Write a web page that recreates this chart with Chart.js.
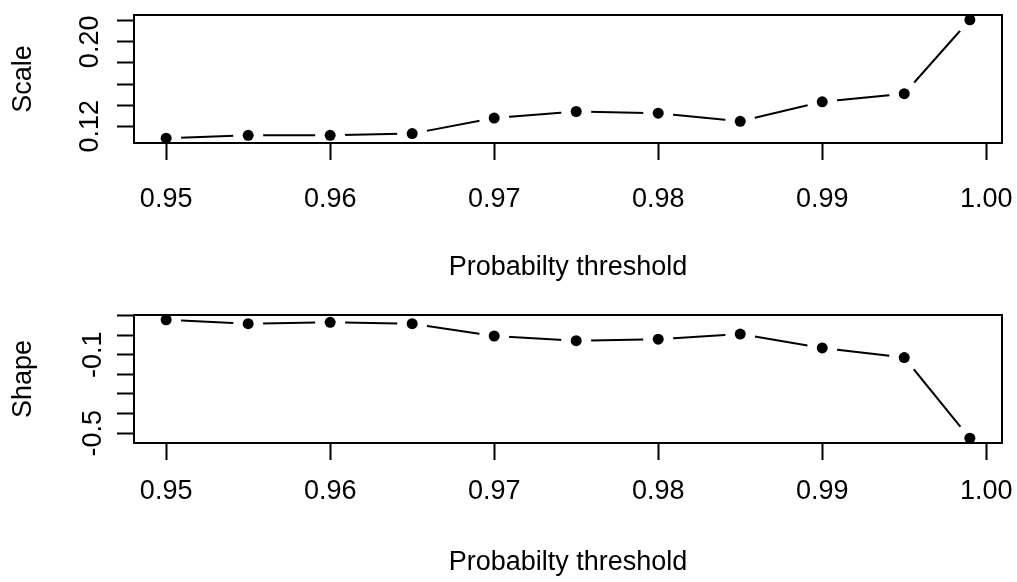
<!DOCTYPE html>
<html>
<head>
<meta charset="utf-8">
<script src="https://cdn.jsdelivr.net/npm/chart.js@4.4.1/dist/chart.umd.min.js"></script>
<style>
  html, body { margin: 0; padding: 0; background: #fff; }
  #wrap { position: relative; width: 1017px; height: 582px; overflow: hidden; }
  canvas { position: absolute; left: 0; }
</style>
</head>
<body>
<div id="wrap">
  <canvas id="scaleChart" width="1017" height="291" style="top:0"></canvas>
  <canvas id="shapeChart" width="1017" height="282" style="top:300px"></canvas>
</div>
<script>
// Data
const thresholds = [0.95, 0.955, 0.96, 0.965, 0.97, 0.975, 0.98, 0.985, 0.99, 0.995, 0.999];
const scaleValues = [0.1085, 0.1113, 0.1113, 0.1129, 0.1277, 0.1339, 0.1323, 0.1246, 0.1431, 0.1508, 0.2210];
const shapeValues = [0.079, 0.059, 0.066, 0.059, -0.004, -0.028, -0.020, 0.006, -0.065, -0.114, -0.526];

const xTicks = [0.95, 0.96, 0.97, 0.98, 0.99, 1.00];
const xTickLabels = ['0.95', '0.96', '0.97', '0.98', '0.99', '1.00'];
const scaleTicks = [0.12, 0.14, 0.16, 0.18, 0.20, 0.22];
const scaleTickLabels = ['0.12', '', '', '', '0.20', ''];
const shapeTicks = [-0.5, -0.4, -0.3, -0.2, -0.1, 0.0, 0.1];
const shapeTickLabels = ['-0.5', '', '', '', '-0.1', '', ''];

const xTitle = 'Probabilty threshold';

Chart.defaults.font.family = '"Liberation Sans", Arial, sans-serif';
Chart.defaults.font.size = 27;
Chart.defaults.color = '#000';

// R style axis range: data range widened by 4% each side
function rRange(values) {
    const lo = Math.min(...values), hi = Math.max(...values);
    const pad = (hi - lo) * 0.04;
    return { min: lo - pad, max: hi + pad };
}

// box around the plot region, drawn after the points
const framePlugin = {
    id: 'frame',
    afterDatasetsDraw(chart) {
        const { ctx, chartArea: a } = chart;
        ctx.save();
        ctx.strokeStyle = '#000';
        ctx.lineWidth = 2;
        ctx.strokeRect(a.left, a.top, a.right - a.left, a.bottom - a.top);
        ctx.restore();
    }
};

function createPanel(canvasId, values, yTicks, yLabels, yTitle, geo) {
    const ctx = document.getElementById(canvasId).getContext('2d');
    const pts = thresholds.map((x, i) => ({ x: x, y: values[i] }));
    const xr = rRange(thresholds);
    const yr = rRange(values);

    return new Chart(ctx, {
        type: 'scatter',
        data: {
            datasets: [{
                // connecting line
                data: pts,
                showLine: true,
                borderColor: '#000',
                borderWidth: 2,
                pointRadius: 0,
                tension: 0,
                clip: 0,
                order: 3
            }, {
                // white gap around each point, like type = "b"
                data: pts,
                showLine: false,
                pointRadius: 15,
                pointBackgroundColor: '#fff',
                pointBorderWidth: 0,
                clip: 0,
                order: 2
            }, {
                data: pts,
                showLine: false,
                pointRadius: 5.5,
                pointBackgroundColor: '#000',
                pointBorderWidth: 0,
                clip: false,
                order: 1
            }]
        },
        options: {
            responsive: false,
            animation: false,
            events: [],
            layout: {
                padding: { top: geo.top, right: 14, bottom: 0, left: 0 }
            },
            plugins: {
                legend: { display: false },
                tooltip: { enabled: false }
            },
            scales: {
                x: {
                    type: 'linear',
                    position: 'bottom',
                    min: xr.min,
                    max: xr.max,
                    afterBuildTicks: scale => {
                        scale.ticks = xTicks.map(v => ({ value: v }));
                    },
                    afterFit: scale => {
                        scale.height = geo.height - geo.bottom;
                        scale.paddingLeft = 0;
                        scale.paddingRight = 0;
                    },
                    ticks: {
                        autoSkip: false,
                        maxRotation: 0,
                        padding: geo.tickPad,
                        callback: (v, i) => xTickLabels[i]
                    },
                    grid: {
                        drawOnChartArea: false,
                        drawTicks: true,
                        tickLength: 17,
                        tickWidth: 2,
                        color: '#000'
                    },
                    border: { display: false },
                    title: {
                        display: true,
                        text: xTitle,
                        padding: { top: 0, bottom: geo.titlePad }
                    }
                },
                y: {
                    type: 'linear',
                    position: 'left',
                    min: yr.min,
                    max: yr.max,
                    afterBuildTicks: scale => {
                        scale.ticks = yTicks.map(v => ({ value: v }));
                    },
                    afterFit: scale => {
                        scale.width = 134;
                        scale.paddingTop = 0;
                        scale.paddingBottom = 0;
                    },
                    ticks: {
                        autoSkip: false,
                        minRotation: 90,
                        maxRotation: 90,
                        crossAlign: 'center',
                        padding: 0,
                        callback: (v, i) => yLabels[i]
                    },
                    grid: {
                        drawOnChartArea: false,
                        drawTicks: true,
                        tickLength: 17,
                        tickWidth: 2,
                        color: '#000'
                    },
                    border: { display: false },
                    title: {
                        display: true,
                        text: yTitle,
                        padding: { top: 7.4, bottom: 0 }
                    }
                }
            }
        },
        plugins: [framePlugin]
    });
}

createPanel('scaleChart', scaleValues, scaleTicks, scaleTickLabels, 'Scale',
    { top: 11, bottom: 143, height: 291, tickPad: 23, titlePad: 7.5 });
createPanel('shapeChart', shapeValues, shapeTicks, shapeTickLabels, 'Shape',
    { top: 12, bottom: 143, height: 282, tickPad: 15, titlePad: 3.5 });
</script>
</body>
</html>
